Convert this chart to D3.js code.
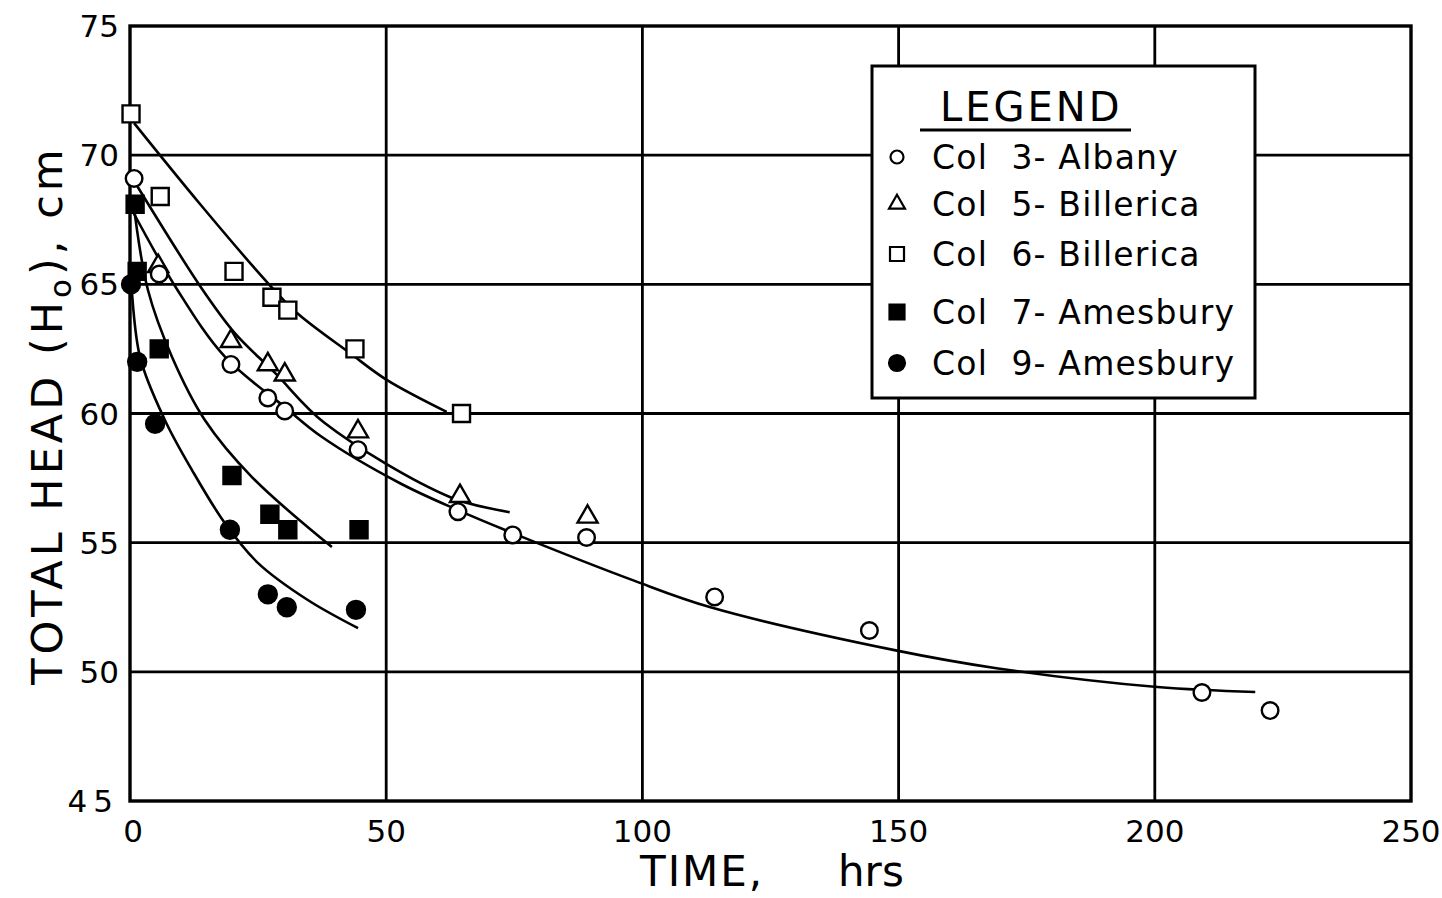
<!DOCTYPE html>
<html>
<head>
<meta charset="utf-8">
<script src="https://cdn.jsdelivr.net/npm/d3@7"></script>
<style>
  html, body { margin: 0; padding: 0; background: #fff; }
  svg { display: block; }
  text { font-family: "DejaVu Sans", "Liberation Sans", sans-serif; fill: #000; }
</style>
</head>
<body>
<svg id="chart" width="1442" height="898"></svg>
<script>
// Axis ticks
const xTicks = [0, 50, 100, 150, 200, 250];
const yTicks = [45, 50, 55, 60, 65, 70, 75];

// Measured heads: [time (hrs), head (cm)]
const col3Albany = [[0.8,69.1],[5.7,65.4],[19.7,61.9],[26.9,60.6],[30.2,60.1],[44.5,58.6],[64.0,56.2],[74.7,55.3],[89.1,55.2],[114.1,52.9],[144.3,51.6],[209.2,49.2],[222.5,48.5]];
const col5Billerica = [[5.5,65.7],[19.7,62.8],[26.9,61.9],[30.2,61.5],[44.5,59.3],[64.4,56.8],[89.3,56.0]];
const col6Billerica = [[0.2,71.6],[5.9,68.4],[20.3,65.5],[27.7,64.5],[30.8,64.0],[43.9,62.5],[64.7,60.0]];
const col7Amesbury = [[1.0,68.1],[1.4,65.5],[5.7,62.5],[19.9,57.6],[27.3,56.1],[30.8,55.5],[44.7,55.5]];
const col9Amesbury = [[0.2,65.0],[1.4,62.0],[4.9,59.6],[19.5,55.5],[26.9,53.0],[30.6,52.5],[44.1,52.4]];

// Hand-fitted trend curves: [time (hrs), head (cm)]
const col3Curve = [[0.6,67.8],[9.2,64.8],[18.5,62.2],[30.2,60.25],[37.4,59.1],[52.7,57.3],[64.0,56.26],[74.7,55.37],[98.1,53.55],[113.3,52.5],[149.2,50.84],[169.1,50.14],[200.5,49.41],[219.6,49.22]];
const col5Curve = [[0.8,69.0],[14.2,64.78],[20.5,63.1],[28.3,61.57],[38.0,59.63],[62.4,56.77],[74.1,56.18]];
const col6Curve = [[0.8,71.24],[13.7,68.1],[26.9,65.05],[32.6,63.89],[42.9,62.34],[50.1,61.3],[61.8,60.06]];
const col7Curve = [[0.6,68.26],[3.5,64.78],[8.2,62.19],[14.6,59.75],[23.8,57.54],[39.4,54.83]];
const col9Curve = [[0.2,65.24],[1.95,62.19],[6.8,59.75],[12.1,57.81],[18.5,55.76],[25.0,54.21],[34.7,52.78],[44.5,51.69]];

const legendLabels = ["Col  3- Albany", "Col  5- Billerica", "Col  6- Billerica", "Col  7- Amesbury", "Col  9- Amesbury"];

const svg = d3.select("#chart");
const plotLeft = 130, plotRight = 1411, plotTop = 26, plotBottom = 801;

const x = d3.scaleLinear().domain([0, 250]).range([plotLeft, plotRight]);
const y = d3.scaleLinear().domain([45, 75]).range([plotBottom, plotTop]);

// Grid
const grid = svg.append("g").attr("stroke", "#000").attr("stroke-width", 2.8);
grid.selectAll("line.v").data(xTicks.slice(1, -1)).join("line")
  .attr("class", "v")
  .attr("x1", d => x(d)).attr("x2", d => x(d)).attr("y1", plotTop).attr("y2", plotBottom);
grid.selectAll("line.h").data(yTicks.slice(1, -1)).join("line")
  .attr("class", "h")
  .attr("x1", plotLeft).attr("x2", plotRight).attr("y1", d => y(d)).attr("y2", d => y(d));

// Frame
svg.append("rect").attr("x", plotLeft).attr("y", plotTop)
  .attr("width", plotRight - plotLeft).attr("height", plotBottom - plotTop)
  .attr("fill", "none").attr("stroke", "#000").attr("stroke-width", 3.4);

// Tick labels
svg.append("g").selectAll("text").data(xTicks).join("text")
  .attr("x", d => x(d) + (d === 0 ? 3 : 0)).attr("y", 842)
  .attr("text-anchor", "middle").attr("font-size", 31)
  .text(d => d);
svg.append("g").selectAll("text").data(yTicks).join("text")
  .attr("x", 119).attr("y", d => y(d) + 11)
  .attr("text-anchor", "end").attr("font-size", 31)
  .attr("letter-spacing", d => d === 45 ? 6 : 0)
  .text(d => d);

// Axis titles
svg.append("text").attr("x", 640).attr("y", 886).attr("font-size", 42)
  .attr("letter-spacing", 2).text("TIME,");
svg.append("text").attr("x", 838).attr("y", 886).attr("font-size", 42).text("hrs");

const yTitle = svg.append("text")
  .attr("transform", "translate(62,415) rotate(-90)")
  .attr("text-anchor", "middle").attr("font-size", 43).attr("letter-spacing", 4);
yTitle.append("tspan").text("TOTAL  HEAD (H");
yTitle.append("tspan").attr("font-size", 31).attr("dy", 9).text("o");
yTitle.append("tspan").attr("dy", -9).text("),  cm");

// Curves
const line = d3.line().x(d => x(d[0])).y(d => y(d[1])).curve(d3.curveCatmullRom.alpha(0.5));
const curves = svg.append("g").attr("fill", "none").attr("stroke", "#000").attr("stroke-width", 2.6);
[col3Curve, col5Curve, col6Curve, col7Curve, col9Curve].forEach(c => {
  curves.append("path").attr("d", line(c));
});

// Marker shapes
const shapes = {
  openCircle: { type: d3.symbolCircle, size: Math.PI * 8.3 * 8.3, fill: "#fff" },
  openTriangle: { type: d3.symbolTriangle, size: 175, fill: "#fff" },
  openSquare: { type: d3.symbolSquare, size: 17 * 17, fill: "#fff" },
  filledSquare: { type: d3.symbolSquare, size: 17 * 17, fill: "#000" },
  filledCircle: { type: d3.symbolCircle, size: Math.PI * 9 * 9, fill: "#000" }
};

function drawPoints(data, shape) {
  svg.append("g").selectAll("path").data(data).join("path")
    .attr("transform", d => `translate(${x(d[0])},${y(d[1])})`)
    .attr("d", d3.symbol().type(shape.type).size(shape.size))
    .attr("fill", shape.fill).attr("stroke", "#000").attr("stroke-width", 2.4);
}
drawPoints(col6Billerica, shapes.openSquare);
drawPoints(col5Billerica, shapes.openTriangle);
drawPoints(col3Albany, shapes.openCircle);
drawPoints(col7Amesbury, shapes.filledSquare);
drawPoints(col9Amesbury, shapes.filledCircle);

// Legend
const lg = svg.append("g");
lg.append("rect").attr("x", 872).attr("y", 66).attr("width", 383).attr("height", 332)
  .attr("fill", "#fff").attr("stroke", "#000").attr("stroke-width", 3);
lg.append("text").attr("x", 940).attr("y", 121).attr("font-size", 40).attr("letter-spacing", 3).text("LEGEND");
lg.append("line").attr("x1", 920).attr("x2", 1131).attr("y1", 130).attr("y2", 130)
  .attr("stroke", "#000").attr("stroke-width", 3);

const legendShapes = [
  { type: d3.symbolCircle, size: Math.PI * 6.5 * 6.5, fill: "#fff" },
  { type: d3.symbolTriangle, size: 110, fill: "#fff" },
  { type: d3.symbolSquare, size: 14 * 14, fill: "#fff" },
  { type: d3.symbolSquare, size: 15 * 15, fill: "#000" },
  { type: d3.symbolCircle, size: Math.PI * 8 * 8, fill: "#000" }
];
const rowY = [157, 204, 254, 312, 363];
legendLabels.forEach((t, i) => {
  lg.append("path").attr("transform", `translate(897,${rowY[i]})`)
    .attr("d", d3.symbol().type(legendShapes[i].type).size(legendShapes[i].size))
    .attr("fill", legendShapes[i].fill).attr("stroke", "#000").attr("stroke-width", 2.2);
  lg.append("text").attr("x", 932).attr("y", rowY[i] + 12).attr("font-size", 33)
    .attr("letter-spacing", 1.2)
    .attr("xml:space", "preserve").style("white-space", "pre").text(t);
});
</script>
</body>
</html>
